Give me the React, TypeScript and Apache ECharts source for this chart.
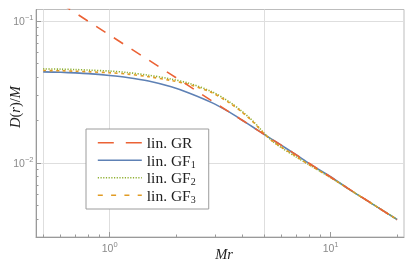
import { useEffect, useRef } from 'react';
import * as echarts from 'echarts';

const xs = [0.5, 0.6, 0.7, 0.8, 1, 1.2, 1.5, 1.9, 2.3, 2.9, 3.5, 4, 4.5, 5, 5.5, 6, 7, 8, 10, 12, 15, 20];

// D(r)/M
const grVals = [0.159, 0.133, 0.114, 0.0995, 0.0796, 0.0663, 0.0531, 0.0419, 0.0346, 0.0274, 0.0227, 0.0199, 0.0177, 0.0159, 0.01447, 0.0133, 0.0114, 0.00995, 0.00796, 0.00663, 0.00531, 0.00398];
const gf1Vals = [0.0438, 0.0435, 0.0431, 0.0426, 0.0413, 0.0400, 0.0378, 0.0344, 0.0310, 0.0266, 0.0227, 0.0199, 0.0177, 0.0159, 0.0145, 0.0133, 0.0114, 0.0099, 0.0080, 0.0066, 0.0053, 0.0040];
const gf2Vals = [0.0460, 0.0458, 0.0455, 0.0451, 0.0444, 0.0434, 0.0415, 0.0390, 0.0363, 0.0318, 0.0268, 0.0229, 0.0194, 0.0162, 0.0141, 0.0128, 0.0110, 0.0097, 0.0079, 0.0066, 0.0053, 0.0040];
const gf3Vals = [0.0448, 0.0446, 0.0443, 0.0439, 0.0432, 0.0423, 0.0405, 0.0381, 0.0356, 0.0313, 0.0264, 0.0226, 0.0192, 0.0161, 0.0141, 0.0129, 0.0111, 0.0097, 0.0079, 0.0066, 0.0053, 0.0040];

const seriesNames = ['lin. GR', 'lin. GF1', 'lin. GF2', 'lin. GF3'];

// Axis ticks
const xMajorTicks = [1, 10];
const xMinorTicks = [0.5, 0.6, 0.7, 0.8, 0.9, 2, 3, 4, 5, 6, 7, 8, 9, 20];
const xGridLines = [0.5, 1, 5];
const yMajorTicks = [0.01, 0.1];
const yMinorTicks = [0.004, 0.005, 0.006, 0.007, 0.008, 0.009, 0.02, 0.03, 0.04, 0.05, 0.06, 0.07, 0.08, 0.09];
const yGridLines = [0.01, 0.1];

const X_MIN = 0.464;
const X_MAX = 21.5;
const Y_MIN = 0.00301;
const Y_MAX = 0.1205;

export default function App() {
  const ref = useRef<HTMLDivElement>(null);

  useEffect(() => {
    if (!ref.current) return;
    const chart = echarts.init(ref.current, null, { renderer: 'svg' });

    const tickColor = '#9a9a9a';
    const labelColor = '#8a8a8a';
    const supFmt = (v: number) => {
      const e = Math.round(Math.log10(v));
      return `{b|10}{s|${e < 0 ? '\u2212' + -e : e}}`;
    };
    const labelRich = {
      b: { fontSize: 10.5, color: labelColor, fontFamily: 'Liberation Sans' },
      s: { fontSize: 7.5, color: labelColor, fontFamily: 'Liberation Sans', padding: [0, 0, 7, 0] },
    };

    const hidden = {
      axisLine: { show: false },
      axisLabel: { show: false },
      splitLine: { show: false },
    };

    const mk = (vals: number[]) => xs.map((x, i) => [x, vals[i]]);

    const option: any = {
      animation: false,
      grid: {
        left: 36,
        right: 11,
        top: 9.5,
        bottom: 26,
        show: true,
        borderColor: '#bdbdbd',
        borderWidth: 1,
        backgroundColor: '#fff',
      },
      xAxis: [
        {
          type: 'log', logBase: 10, min: X_MIN, max: X_MAX, position: 'bottom',
          axisLine: { show: true, onZero: false, lineStyle: { color: tickColor, width: 1 } },
          axisTick: { show: true, inside: true, length: 5, customValues: xMajorTicks, lineStyle: { color: tickColor } },
          axisLabel: { customValues: xMajorTicks, formatter: supFmt, margin: 3, rich: labelRich },
          splitLine: { show: false },
        },
        {
          type: 'log', logBase: 10, min: X_MIN, max: X_MAX, position: 'bottom', ...hidden,
          axisTick: { show: true, inside: true, length: 2.5, customValues: xMinorTicks, lineStyle: { color: tickColor } },
        },
        {
          type: 'log', logBase: 10, min: X_MIN, max: X_MAX, position: 'bottom',
          axisLine: { show: false }, axisLabel: { show: false },
          axisTick: { show: false, customValues: xGridLines },
          splitLine: { show: true, lineStyle: { color: '#dedede', width: 1 } },
        },
      ],
      yAxis: [
        {
          type: 'log', logBase: 10, min: Y_MIN, max: Y_MAX, position: 'left',
          axisLine: { show: true, onZero: false, lineStyle: { color: tickColor, width: 1 } },
          axisTick: { show: true, inside: true, length: 5, customValues: yMajorTicks, lineStyle: { color: tickColor } },
          axisLabel: { customValues: yMajorTicks, formatter: supFmt, margin: 2.5, rich: labelRich },
          splitLine: { show: false },
        },
        {
          type: 'log', logBase: 10, min: Y_MIN, max: Y_MAX, position: 'left', ...hidden,
          axisTick: { show: true, inside: true, length: 2.5, customValues: yMinorTicks, lineStyle: { color: tickColor } },
        },
        {
          type: 'log', logBase: 10, min: Y_MIN, max: Y_MAX, position: 'left',
          axisLine: { show: false }, axisLabel: { show: false },
          axisTick: { show: false, customValues: yGridLines },
          splitLine: { show: true, lineStyle: { color: '#dedede', width: 1 } },
        },
      ],
      legend: {
        orient: 'vertical',
        left: 86,
        top: 129,
        padding: [5, 13, 5, 11],
        itemWidth: 44,
        itemHeight: 14,
        itemGap: 0,
        backgroundColor: '#fff',
        borderColor: '#9c9c9c',
        borderWidth: 1,
        selectedMode: false,
        itemStyle: { opacity: 0, color: 'rgba(0,0,0,0)', borderWidth: 0 },
        formatter: (name: string) => name.replace(/GF(\d)/, 'GF{s|$1}'),
        textStyle: {
          fontFamily: 'Liberation Serif',
          fontSize: 15.5,
          lineHeight: 17.5,
          color: '#222',
          rich: {
            s: { fontFamily: 'Liberation Serif', fontSize: 10, lineHeight: 10, color: '#222', verticalAlign: 'bottom' },
          },
        },
        data: [
          { name: seriesNames[0], lineStyle: { color: '#EB6235', width: 1.6, type: [16, 12] } },
          { name: seriesNames[1], lineStyle: { color: '#5E81B5', width: 1.6, type: 'solid' } },
          { name: seriesNames[2], lineStyle: { color: '#8FB032', width: 1.6, type: [1.2, 1.5] } },
          { name: seriesNames[3], lineStyle: { color: '#E19C24', width: 1.6, type: [5, 8.3] } },
        ],
      },
      series: [
        {
          name: seriesNames[1], type: 'line', data: mk(gf1Vals), symbol: 'none', smooth: 0.3,
          lineStyle: { color: '#5E81B5', width: 1.6, type: 'solid' }, itemStyle: { color: '#5E81B5' },
        },
        {
          name: seriesNames[2], type: 'line', data: mk(gf2Vals), symbol: 'none', smooth: 0.3,
          lineStyle: { color: '#8FB032', width: 1.6, type: [1.2, 1.5] }, itemStyle: { color: '#8FB032' },
        },
        {
          name: seriesNames[3], type: 'line', data: mk(gf3Vals), symbol: 'none', smooth: 0.3,
          lineStyle: { color: '#E19C24', width: 1.6, type: [3, 3.5] }, itemStyle: { color: '#E19C24' },
        },
        {
          name: seriesNames[0], type: 'line', data: mk(grVals), symbol: 'none',
          lineStyle: { color: '#EB6235', width: 1.6, type: [11, 10] }, itemStyle: { color: '#EB6235' },
        },
      ],
      graphic: [
        {
          type: 'text', x: 15, y: 107, rotation: Math.PI / 2,
          style: {
            text: '{i|D}{n|(}{i|r}{n|)/}{i|M}',
            align: 'center', verticalAlign: 'middle',
            rich: {
              i: { fontFamily: 'Liberation Serif', fontStyle: 'italic', fontSize: 14.5, fill: '#222' },
              n: { fontFamily: 'Liberation Serif', fontSize: 14.5, fill: '#222' },
            },
          },
        },
        {
          type: 'text', x: 224, y: 254,
          style: {
            text: 'Mr', fontFamily: 'Liberation Serif', fontStyle: 'italic', fontSize: 14.5,
            fill: '#222', align: 'center', verticalAlign: 'middle',
          },
        },
      ],
    };

    chart.setOption(option);
    return () => chart.dispose();
  }, []);

  return <div ref={ref} style={{ position: 'fixed', left: 0, top: 0, width: 415, height: 263 }} />;
}
